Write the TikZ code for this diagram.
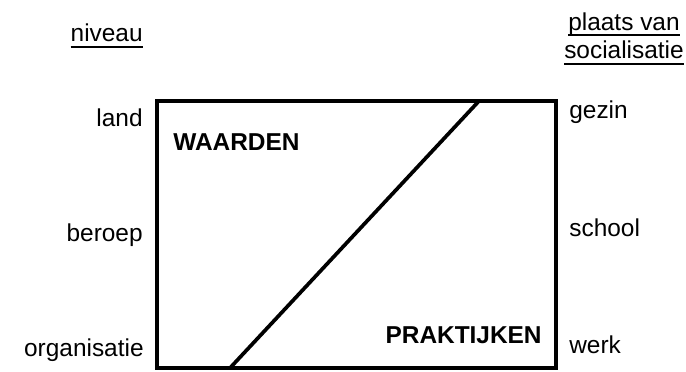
\documentclass[tikz,border=0pt]{standalone}
\usepackage{fontspec}
\setmainfont{Liberation Sans}
\newcommand{\onderstreept}[1]{\setbox0\hbox{#1}\rlap{\rule[-3.4pt]{\wd0}{1.1pt}}\box0}
\usetikzlibrary{calc}
\tikzset{
 lbl/.style={font=\fontsize{13.9}{16.4}\selectfont, inner sep=0},
 kop/.style={font=\fontsize{13.9}{16.4}\selectfont\bfseries, inner sep=0},
 rand/.style={line width=2.1pt},
}

\begin{document}
\begin{tikzpicture}[x=0.2mm,y=-0.2mm]
\useasboundingbox (0,0) rectangle (686,372);
% kader
\draw[rand] (157,101) rectangle (556,368);
\coordinate (boven) at (479,101);
\coordinate (onder) at (230,368);
\draw[rand] (onder) -- (boven);
% koppen
\node[lbl, anchor=base east] (niveau) at (143,42) {\onderstreept{niveau}};
\node[lbl, align=center, anchor=base] (plaats) at (624,59) {\onderstreept{plaats van}\\\onderstreept{socialisatie}};
% niveaus
\node[lbl, anchor=base east] (land) at (143,127) {land};
\node[lbl, anchor=base east] (beroep) at (143,242) {beroep};
\node[lbl, anchor=base east] (organisatie) at (144,357) {organisatie};
% plaatsen
\node[lbl, anchor=base west] (gezin) at (569,119) {gezin};
\node[lbl, anchor=base west] (school) at (569,237) {school};
\node[lbl, anchor=base west] (werk) at (569,354) {werk};
% vlakken
\node[kop, anchor=base west] (waarden) at (173,151) {WAARDEN};
\node[kop, anchor=base east] (praktijken) at (542,344) {PRAKTIJKEN};
\end{tikzpicture}
\end{document}
